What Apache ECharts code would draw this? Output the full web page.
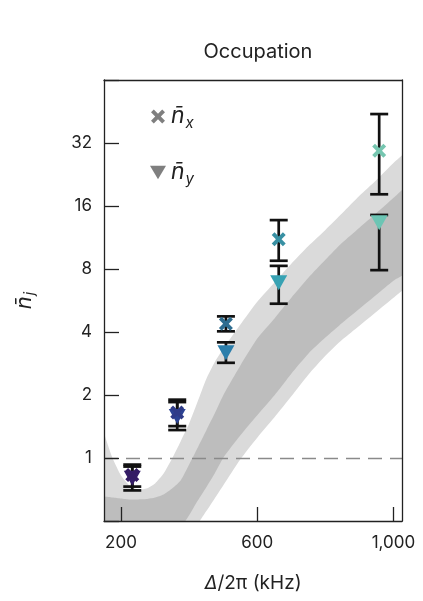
<!DOCTYPE html>
<html>
<head>
<meta charset="utf-8">
<script src="https://cdn.jsdelivr.net/npm/echarts@6/dist/echarts.min.js"></script>
<style>
html, body { margin: 0; padding: 0; background: #fff; }
#chart { width: 423px; height: 601px; }
</style>
</head>
<body>
<div id="chart"></div>
<script>
// measured points (kHz) and occupations
var detuning = [233, 365, 508, 663, 958];
var nX = [0.83, 1.65, 4.38, 11.1, 29.4];
var nXLow = [0.73, 1.42, 4.03, 8.76, 18.2];
var nXHigh = [0.93, 1.90, 4.75, 13.7, 44];
var nY = [0.80, 1.58, 3.18, 6.87, 13.3];
var nYLow = [0.70, 1.36, 2.85, 5.46, 7.9];
var nYHigh = [0.91, 1.85, 3.57, 8.28, 14.5];
var colorsX = ['#341c64', '#2f3b88', '#2e6d90', '#3890a3', '#76c6b0'];
var colorsY = ['#351d68', '#2c4394', '#2b7eab', '#37a2b3', '#6cc5b4'];

// theory band (outer = light, inner = dark)
var bandX = [125, 150, 175, 200, 225, 250, 275, 300, 325, 350, 375, 400, 425, 450, 475, 500, 550, 600, 650, 700, 750, 800, 850, 900, 950, 1000, 1025, 1050];
var outerHi = [1.9, 1.32, 1.0, 0.825, 0.739, 0.707, 0.715, 0.756, 0.843, 0.995, 1.2, 1.46, 1.86, 2.38, 2.87, 3.33, 4.33, 5.58, 6.88, 8.47, 10.3, 12.3, 14.8, 17.9, 21.3, 25.7, 28.0, 30.5];
var innerHi = [0.66, 0.655, 0.648, 0.641, 0.634, 0.634, 0.637, 0.648, 0.670, 0.715, 0.781, 0.931, 1.12, 1.35, 1.63, 1.99, 2.76, 3.72, 4.63, 5.83, 7.26, 8.85, 10.7, 12.6, 14.8, 17.5, 19.1, 20.8];
var innerLo = [0.10, 0.119, 0.139, 0.16, 0.187, 0.218, 0.252, 0.294, 0.343, 0.397, 0.462, 0.532, 0.624, 0.723, 0.843, 1.0, 1.28, 1.6, 1.99, 2.53, 3.15, 3.76, 4.43, 5.17, 6.03, 7.03, 7.42, 7.9];
var outerLo = [0.087, 0.101, 0.117, 0.134, 0.155, 0.177, 0.204, 0.236, 0.272, 0.314, 0.362, 0.418, 0.482, 0.556, 0.641, 0.739, 0.983, 1.25, 1.56, 1.97, 2.50, 3.08, 3.68, 4.29, 5.0, 5.83, 6.3, 6.8];

var xTicks = [200, 600, 1000];

var FONT = 'Inter';
var crossPath = 'path://M2,0 L5,3 L8,0 L10,2 L7,5 L10,8 L8,10 L5,7 L2,10 L0,8 L3,5 L0,2 Z';
var triPath = 'path://M0,0 L12,0 L6,10 Z';

var myChart = echarts.init(document.getElementById('chart'));

function bandItem(hiArr, loArr, color) {
    return function(params, api) {
        if (params.dataIndex !== 0) return;
        var pts = [];
        for (var i = 0; i < bandX.length; i++) {
            pts.push(api.coord([bandX[i], hiArr[i]]));
        }
        for (var j = bandX.length - 1; j >= 0; j--) {
            pts.push(api.coord([bandX[j], loArr[j]]));
        }
        return {
            type: 'polygon',
            shape: { points: pts, smooth: 0.2 },
            style: { fill: color, stroke: null }
        };
    };
}

function errItem(params, api) {
    var x = api.value(0);
    var pLo = api.coord([x, api.value(1)]);
    var pHi = api.coord([x, api.value(2)]);
    var w = 9;
    var st = { stroke: '#111', lineWidth: 2.7, fill: null };
    return {
        type: 'group',
        children: [
            { type: 'line', shape: { x1: pLo[0], y1: pLo[1], x2: pHi[0], y2: pHi[1] }, style: st },
            { type: 'line', shape: { x1: pLo[0] - w, y1: pLo[1], x2: pLo[0] + w, y2: pLo[1] }, style: st },
            { type: 'line', shape: { x1: pHi[0] - w, y1: pHi[1], x2: pHi[0] + w, y2: pHi[1] }, style: st }
        ]
    };
}

var bandData = bandX.map(function(k, i) { return [k, outerHi[i], outerLo[i]]; });
var errData = [];
for (var i = 0; i < detuning.length; i++) {
    errData.push([detuning[i], nXLow[i], nXHigh[i]]);
    errData.push([detuning[i], nYLow[i], nYHigh[i]]);
}

var option = {
    animation: false,
    textStyle: { fontFamily: FONT },
    title: {
        text: 'Occupation',
        left: 253,
        top: 37,
        textAlign: 'center',
        textStyle: { fontFamily: FONT, fontWeight: 'normal', fontSize: 20, color: '#222' }
    },
    grid: { left: 104, right: 21, top: 80, bottom: 80 },
    legend: {
        orient: 'vertical',
        left: 145,
        top: 100,
        itemWidth: 16,
        itemHeight: 14,
        itemGap: 30,
        selectedMode: false,
        data: [
            { name: 'nx', icon: crossPath, itemStyle: { color: '#7f7f7f' } },
            { name: 'ny', icon: triPath, itemStyle: { color: '#7f7f7f' } }
        ],
        formatter: function(name) {
            return name === 'nx' ? '{n|n\u0304}{s|x}' : '{n|n\u0304}{s|y}';
        },
        textStyle: {
            rich: {
                n: { fontFamily: FONT, fontStyle: 'italic', fontSize: 23, color: '#222', lineHeight: 28 },
                s: { fontFamily: FONT, fontStyle: 'italic', fontSize: 15, color: '#222', padding: [14, 0, 0, 1] }
            }
        }
    },
    xAxis: [{
        type: 'value',
        min: 150,
        max: 1025,
        z: 10,
        name: '{i|\u0394}/2\u03c0 (kHz)',
        nameLocation: 'middle',
        nameGap: 53,
        nameTextStyle: {
            fontFamily: FONT, fontSize: 19, color: '#222',
            rich: { i: { fontFamily: FONT, fontStyle: 'italic', fontSize: 19, color: '#222' } }
        },
        axisLine: { show: true, lineStyle: { color: '#222', width: 1.3 } },
        axisTick: { show: true, inside: true, length: 14, customValues: xTicks, lineStyle: { color: '#222', width: 1.3 } },
        axisLabel: { customValues: xTicks, margin: 13, fontSize: 17, color: '#222', fontFamily: FONT },
        splitLine: { show: false }
    }, {
        type: 'value',
        position: 'top',
        min: 150,
        max: 1025,
        z: 10,
        axisLine: { show: true, lineStyle: { color: '#222', width: 1.3 } },
        axisTick: { show: false },
        axisLabel: { show: false },
        splitLine: { show: false }
    }],
    yAxis: [{
        type: 'log',
        logBase: 2,
        min: 0.5,
        max: 64,
        splitNumber: 7,
        z: 10,
        name: '{n|n\u0304}{s|j}',
        nameLocation: 'middle',
        nameGap: 67,
        nameTextStyle: {
            rich: {
                n: { fontFamily: FONT, fontStyle: 'italic', fontSize: 22, color: '#222' },
                s: { fontFamily: FONT, fontStyle: 'italic', fontSize: 14, color: '#222', padding: [12, 0, 0, 1] }
            }
        },
        axisLine: { show: true, lineStyle: { color: '#222', width: 1.3 } },
        axisTick: { show: true, inside: true, length: 15, lineStyle: { color: '#222', width: 1.3 } },
        axisLabel: {
            margin: 12, fontSize: 17, color: '#222', fontFamily: FONT,
            formatter: function(v) {
                if (v < 0.9 || v > 40) return '';
                return Math.round(v) + '';
            }
        },
        splitLine: { show: false }
    }, {
        type: 'log',
        logBase: 2,
        position: 'right',
        min: 0.5,
        max: 64,
        z: 10,
        axisLine: { show: true, lineStyle: { color: '#222', width: 1.3 } },
        axisTick: { show: false },
        axisLabel: { show: false },
        splitLine: { show: false }
    }],
    series: [
        {
            name: 'outerBand',
            type: 'custom',
            clip: true,
            z: 1,
            silent: true,
            renderItem: bandItem(outerHi, outerLo, '#dadada'),
            encode: { x: 0, y: [1, 2] },
            data: bandData
        },
        {
            name: 'innerBand',
            type: 'custom',
            clip: true,
            z: 1,
            silent: true,
            renderItem: bandItem(innerHi, innerLo, '#bdbdbd'),
            encode: { x: 0, y: [1, 2] },
            data: bandData
        },
        {
            name: 'errors',
            type: 'custom',
            clip: true,
            z: 3,
            renderItem: errItem,
            encode: { x: 0, y: [1, 2] },
            data: errData,
            markLine: {
                silent: true,
                symbol: 'none',
                label: { show: false },
                lineStyle: { color: '#8a8a8a', type: [14, 8], width: 1.4 },
                data: [{ yAxis: 1 }]
            }
        },
        {
            name: 'ny',
            type: 'scatter',
            z: 4,
            symbol: triPath,
            symbolSize: [17, 15],
            itemStyle: { color: '#7f7f7f', opacity: 1 },
            data: detuning.map(function(d, i) {
                return { value: [d, nY[i]], itemStyle: { color: colorsY[i] } };
            })
        },
        {
            name: 'nx',
            type: 'scatter',
            z: 5,
            symbol: crossPath,
            symbolSize: 14,
            itemStyle: { color: '#7f7f7f', opacity: 1 },
            data: detuning.map(function(d, i) {
                return { value: [d, nX[i]], itemStyle: { color: colorsX[i] } };
            })
        }
    ]
};

myChart.setOption(option);
</script>
</body>
</html>
